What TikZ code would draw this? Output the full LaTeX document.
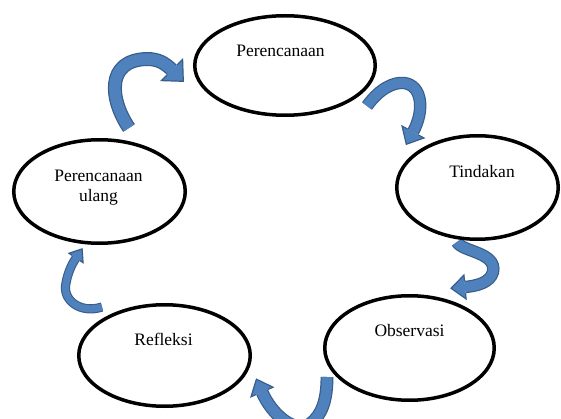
\documentclass[tikz,border=0pt]{standalone}
\usepackage{fontspec}
\setmainfont{Liberation Serif}
\usetikzlibrary{shapes.geometric,decorations.markings}
\definecolor{alight}{RGB}{79,129,189}
\definecolor{adark}{RGB}{56,93,138}
% #1 inner width, #2 outer width, #3 head half width, #4 head length, #5 path
\newcommand\curvedarr[5]{%
  \draw[line width=#2, draw=adark] #5;
  \draw[line width=#1, draw=alight, postaction={decorate, decoration={markings, mark=at position 0.9999 with {
      \fill[alight] (0,#3) -- (#4,0) -- (0,-#3) -- cycle;
      \draw[adark, line width=1.2pt, line join=miter] (0,#2/2) -- (0,#3) -- (#4,0) -- (0,-#3) -- (0,-#2/2);
  }}}] #5;
}
\tikzset{
  ell/.style={ellipse, draw=black, line width=3.5pt, fill=white, inner sep=0pt},
  lab/.style={font=\fontsize{17.5}{19.5}\selectfont, inner sep=0pt, anchor=base}
}
\begin{document}
\begin{tikzpicture}[x=1pt,y=-1pt]
\useasboundingbox (0,0) rectangle (561,419);
\fill[white] (0,0) rectangle (561,419);
\begin{scope}
\clip (0,0) rectangle (561,419);
% arrows
\curvedarr{11.5}{14}{15}{16}{(129,128) .. controls (110,100) and (105,60) .. (147,59) .. controls (158,59) and (165,63) .. (172,70)}
\curvedarr{10}{12.4}{12.5}{14}{(367,106) .. controls (380,88) and (394,82) .. (404,83) .. controls (422,85) and (425,110) .. (413,132)}
\curvedarr{10}{12.4}{12}{14}{(457,242) .. controls (462,252) and (497,252) .. (493,272) .. controls (490,283) and (476,286) .. (465,287)}
\curvedarr{10.5}{12.9}{12}{14}{(327,377) .. controls (327,400) and (322,415) .. (310,424) .. controls (295,434) and (272,415) .. (262,392)}
\curvedarr{7}{9.2}{8.5}{11}{(102,307) .. controls (80,314) and (62,300) .. (66,283) .. controls (68,272) and (72,264) .. (76,258)}
\end{scope}
% ellipses
\node[ell, minimum width=180.5, minimum height=99.5] (per) at (285,65.5) {};
\node[ell, minimum width=161.5, minimum height=103.5] (tin) at (477.5,187.5) {};
\node[ell, minimum width=169.5, minimum height=104.5] (obs) at (409.5,348) {};
\node[ell, minimum width=171.5, minimum height=101.5] (ref) at (164.5,355.5) {};
\node[ell, minimum width=171.5, minimum height=103.5] (pu) at (99.5,191.5) {};
% labels
\node[lab] (tper) at (280.5,56.7) {Perencanaan};
\node[lab] (ttin) at (482,177.7) {Tindakan};
\node[lab] (tobs) at (409.5,336.7) {Observasi};
\node[lab] (tref) at (163.5,345) {Refleksi};
\node[lab, align=center, anchor=center] (tpu) at (98.5,187.5) {Perencanaan\\ulang};
\end{tikzpicture}
\end{document}
